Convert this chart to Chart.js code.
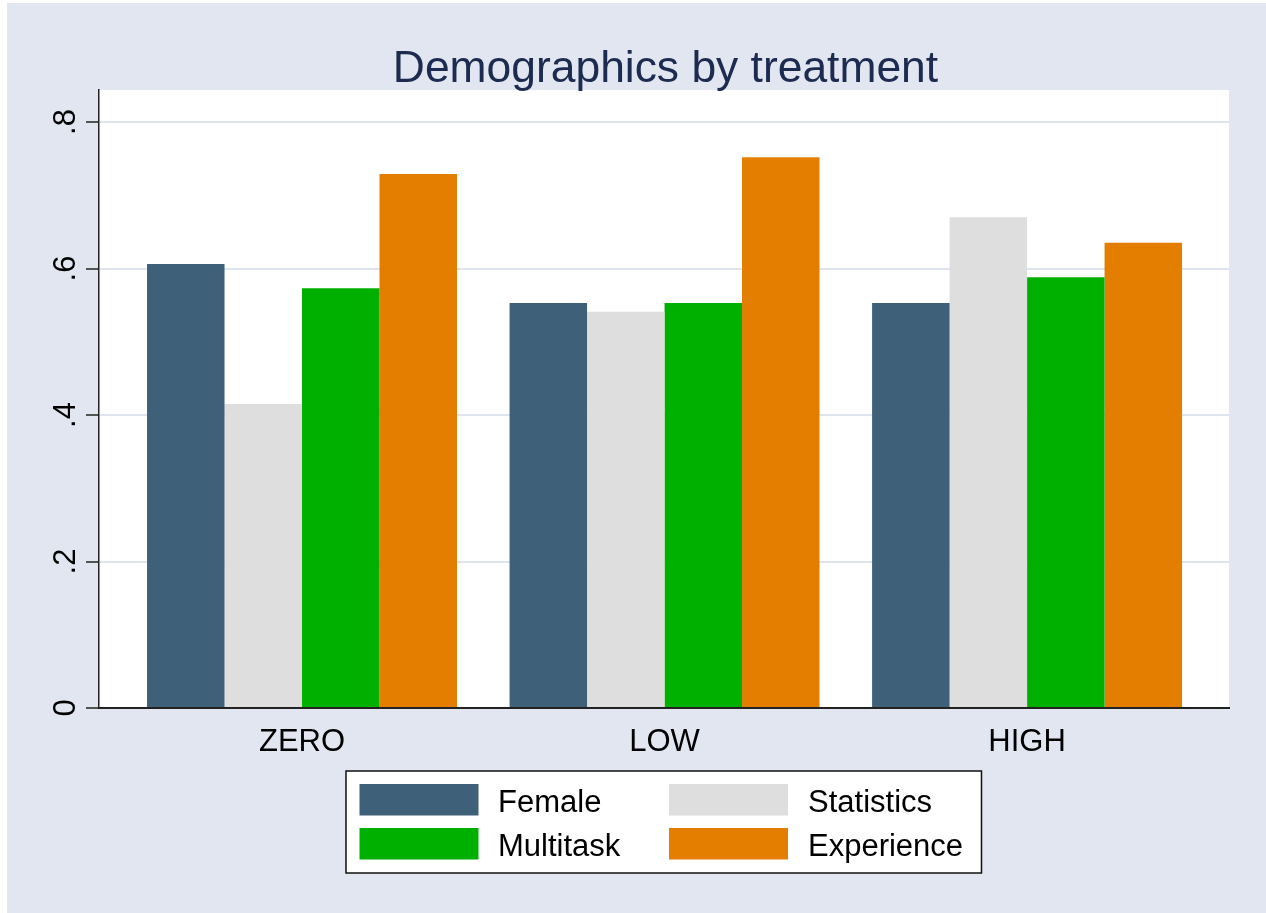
<!DOCTYPE html>
<html>
<head>
<meta charset="utf-8">
<script src="https://cdn.jsdelivr.net/npm/chart.js@4/dist/chart.umd.min.js"></script>
<style>
  html, body { margin: 0; padding: 0; background: #ffffff; }
  #wrap { position: absolute; left: 7px; top: 3px; width: 1259px; height: 910px; }
</style>
</head>
<body>
<div id="wrap"><canvas id="c" width="1259" height="910"></canvas></div>
<script>
// ---- data ----
const categories = ["ZERO", "LOW", "HIGH"];
const seriesNames = ["Female", "Statistics", "Multitask", "Experience"];
const female     = [0.606, 0.553, 0.553];
const statistics = [0.415, 0.541, 0.670];
const multitask  = [0.573, 0.553, 0.588];
const experience = [0.729, 0.752, 0.635];
const yTicks = [0, 0.2, 0.4, 0.6, 0.8];
const yTickLabels = ["0", ".2", ".4", ".6", ".8"];
const title = "Demographics by treatment";

const colors = ["#3e6079", "#dedede", "#00b000", "#e47e00"];
const seriesValues = [female, statistics, multitask, experience];
const FONT = "'Liberation Sans', Arial, Helvetica, sans-serif";

const datasets = seriesNames.map((name, k) => ({
  label: name,
  data: seriesValues[k].map((v, i) => ({ x: i, y: v })),
  backgroundColor: colors[k],
  borderWidth: 0,
  categoryPercentage: 0.855,
  barPercentage: 1.0
}));

const bgPlugin = {
  id: 'bg',
  beforeDraw(chart) {
    const ctx = chart.ctx, a = chart.chartArea;
    ctx.save();
    ctx.fillStyle = '#e1e6f0';
    ctx.fillRect(0, 0, chart.width, chart.height);
    ctx.fillStyle = '#ffffff';
    ctx.fillRect(a.left, a.top, a.right - a.left, a.bottom - a.top);
    ctx.restore();
  }
};

const titlePlugin = {
  id: 'plotTitle',
  afterDraw(chart) {
    const ctx = chart.ctx, a = chart.chartArea;
    ctx.save();
    ctx.fillStyle = '#1c2b4f';
    ctx.font = '44.4px ' + FONT;
    ctx.textAlign = 'center';
    ctx.textBaseline = 'alphabetic';
    ctx.fillText(title, (a.left + a.right) / 2 + 1.5, 79);
    ctx.restore();
  }
};

const yLabelPlugin = {
  id: 'ylabels',
  afterDraw(chart) {
    const ctx = chart.ctx, s = chart.scales.y;
    ctx.save();
    ctx.fillStyle = '#000000';
    ctx.font = '31px ' + FONT;
    ctx.textAlign = 'center';
    ctx.textBaseline = 'alphabetic';
    yTicks.forEach((v, i) => {
      const y = s.getPixelForValue(v);
      ctx.save();
      ctx.translate(68, y);
      ctx.rotate(-Math.PI / 2);
      ctx.fillText(yTickLabels[i], 0, 0);
      ctx.restore();
    });
    ctx.restore();
  }
};

const legendPlugin = {
  id: 'boxLegend',
  afterDraw(chart) {
    const ctx = chart.ctx;
    const ox = -7, oy = -3; // page -> canvas offset
    ctx.save();
    ctx.fillStyle = '#ffffff';
    ctx.fillRect(346 + ox, 771 + oy, 635.5, 102);
    ctx.strokeStyle = '#111111';
    ctx.lineWidth = 1.5;
    ctx.strokeRect(346 + ox, 771 + oy, 635.5, 102);
    const colX = [359.5, 669];
    const textX = [498, 808];
    const rowY = [784, 828];
    ctx.font = '31px ' + FONT;
    ctx.textAlign = 'left';
    ctx.textBaseline = 'alphabetic';
    chart.data.datasets.forEach((ds, k) => {
      const r = Math.floor(k / 2), c = k % 2;
      ctx.fillStyle = ds.backgroundColor;
      ctx.fillRect(colX[c] + ox, rowY[r] + oy, 119, 31.5);
      ctx.fillStyle = '#000000';
      ctx.fillText(ds.label, textX[c] + ox, rowY[r] + 27.8 + oy);
    });
    ctx.restore();
  }
};

new Chart(document.getElementById('c'), {
  type: 'bar',
  data: { datasets },
  plugins: [bgPlugin, titlePlugin, yLabelPlugin, legendPlugin],
  options: {
    responsive: false,
    animation: false,
    devicePixelRatio: 1,
    layout: { padding: { left: 0, right: 37, top: 87, bottom: 0 } },
    plugins: {
      legend: { display: false },
      tooltip: { enabled: false },
      title: { display: false }
    },
    scales: {
      x: {
        type: 'linear',
        offset: false,
        min: -0.56,
        max: 2.557,
        afterBuildTicks(scale) { scale.ticks = categories.map((c, i) => ({ value: i })); },
        afterFit(scale) { scale.height = 205; },
        grid: { display: false, drawTicks: false, offset: false },
        border: { display: true, color: '#222222', width: 2 },
        ticks: {
          color: '#000000',
          font: { family: FONT, size: 31 },
          padding: 16,
          autoSkip: false,
          maxRotation: 0,
          callback: (v) => categories[v]
        }
      },
      y: {
        min: 0,
        max: 0.8437,
        afterBuildTicks(scale) { scale.ticks = yTicks.map(v => ({ value: v })); },
        afterFit(scale) { scale.width = 92; },
        grid: {
          color: (ctx) => ctx.tick && ctx.tick.value === 0 ? 'rgba(0,0,0,0)' : '#dfe5ef',
          lineWidth: 2,
          drawTicks: true,
          tickLength: 13,
          tickColor: '#222222',
          tickWidth: 1.5
        },
        border: { display: true, color: '#222222', width: 1.5 },
        ticks: { display: false }
      }
    }
  }
});
</script>
</body>
</html>
